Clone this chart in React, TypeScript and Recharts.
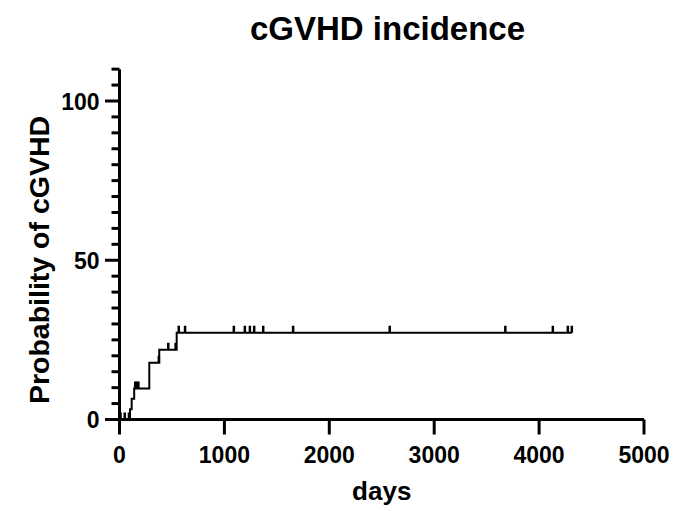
import { ComposedChart, Label, Line, Scatter, XAxis, YAxis } from "recharts";

const FONT = '"Liberation Sans", Arial, Helvetica, sans-serif';

// step curve (cumulative incidence, %)
const eventDays = [0, 100, 116, 140, 284, 379, 545, 4312];
const eventValues = [0, 3.2, 6.5, 9.7, 17.8, 21.9, 27.2, 27.2];

// censored observations
const censorDays = [10, 50, 90, 150, 165, 180, 375, 465, 535, 565, 625, 1090, 1195, 1243, 1284, 1370, 1655, 2576, 3678, 4131, 4274, 4312];
const censorValues = [0, 0, 0, 9.7, 9.7, 9.7, 17.8, 21.9, 21.9, 27.2, 27.2, 27.2, 27.2, 27.2, 27.2, 27.2, 27.2, 27.2, 27.2, 27.2, 27.2, 27.2];

const xTicks = [0, 1000, 2000, 3000, 4000, 5000];
const yTicks = [0, 5, 10, 15, 20, 25, 30, 35, 40, 45, 50, 55, 60, 65, 70, 75, 80, 85, 90, 95, 100, 105, 110];
const yLabelled = [0, 50, 100];

const curve = eventDays.map((d, i) => ({ day: d, value: eventValues[i] }));
const censors = censorDays.map((d, i) => ({ day: d, value: censorValues[i] }));

function YTick({ x, y, payload }: any) {
  const major = yLabelled.includes(payload.value);
  return (
    <g>
      <line x1={x - (major ? 14.5 : 8)} x2={x} y1={y} y2={y} stroke="#000" strokeWidth={3} />
      {major && (
        <text x={x - 20} y={y + 8.5} textAnchor="end" fontFamily={FONT} fontWeight="bold" fontSize={23} fill="#000">
          {payload.value}
        </text>
      )}
    </g>
  );
}

function XTick({ x, y, payload }: any) {
  return (
    <g>
      <line x1={x} x2={x} y1={y} y2={y + 15} stroke="#000" strokeWidth={3} />
      <text x={x} y={y + 43} textAnchor="middle" fontFamily={FONT} fontWeight="bold" fontSize={23} fill="#000">
        {payload.value}
      </text>
    </g>
  );
}

function CensorMark({ cx, cy }: any) {
  return <line x1={cx} x2={cx} y1={cy} y2={cy - 7} stroke="#000" strokeWidth={2.5} />;
}

export default function App() {
  return (
    <div style={{ position: "absolute", left: 0, top: 0, width: 676, height: 511, background: "#fff" }}>
      <div
        style={{
          position: "absolute",
          left: 0,
          width: 775,
          top: 12,
          textAlign: "center",
          fontFamily: FONT,
          fontWeight: "bold",
          fontSize: 33,
          lineHeight: "34px",
        }}
      >
        cGVHD incidence
      </div>
      <ComposedChart width={676} height={511} margin={{ top: 69.15, right: 32, bottom: 31.5, left: 49.5 }}>
        <XAxis
          type="number"
          dataKey="day"
          domain={[0, 5000]}
          ticks={xTicks}
          allowDataOverflow
          height={60}
          axisLine={{ stroke: "#000", strokeWidth: 3 }}
          tickLine={false}
          tickSize={0}
          tickMargin={0}
          tick={<XTick />}
        >
          <Label
            content={({ viewBox }: any) => (
              <text
                x={viewBox.x + viewBox.width / 2}
                y={500}
                textAnchor="middle"
                fontFamily={FONT}
                fontWeight="bold"
                fontSize={26}
                fill="#000"
              >
                days
              </text>
            )}
          />
        </XAxis>
        <YAxis
          type="number"
          dataKey="value"
          domain={[0, 110]}
          ticks={yTicks}
          interval={0}
          allowDataOverflow
          width={70}
          axisLine={{ stroke: "#000", strokeWidth: 3 }}
          tickLine={false}
          tickSize={0}
          tickMargin={0}
          tick={<YTick />}
        >
          <Label
            content={() => (
              <text
                x={49}
                y={260}
                transform="rotate(-90, 49, 260)"
                textAnchor="middle"
                fontFamily={FONT}
                fontWeight="bold"
                fontSize={28.5}
                fill="#000"
              >
                Probability of cGVHD
              </text>
            )}
          />
        </YAxis>
        <Line
          data={curve}
          dataKey="value"
          type="stepAfter"
          stroke="#000"
          strokeWidth={2}
          dot={false}
          activeDot={false}
          isAnimationActive={false}
        />
        <Scatter data={censors} dataKey="value" shape={<CensorMark />} isAnimationActive={false} />
      </ComposedChart>
    </div>
  );
}
